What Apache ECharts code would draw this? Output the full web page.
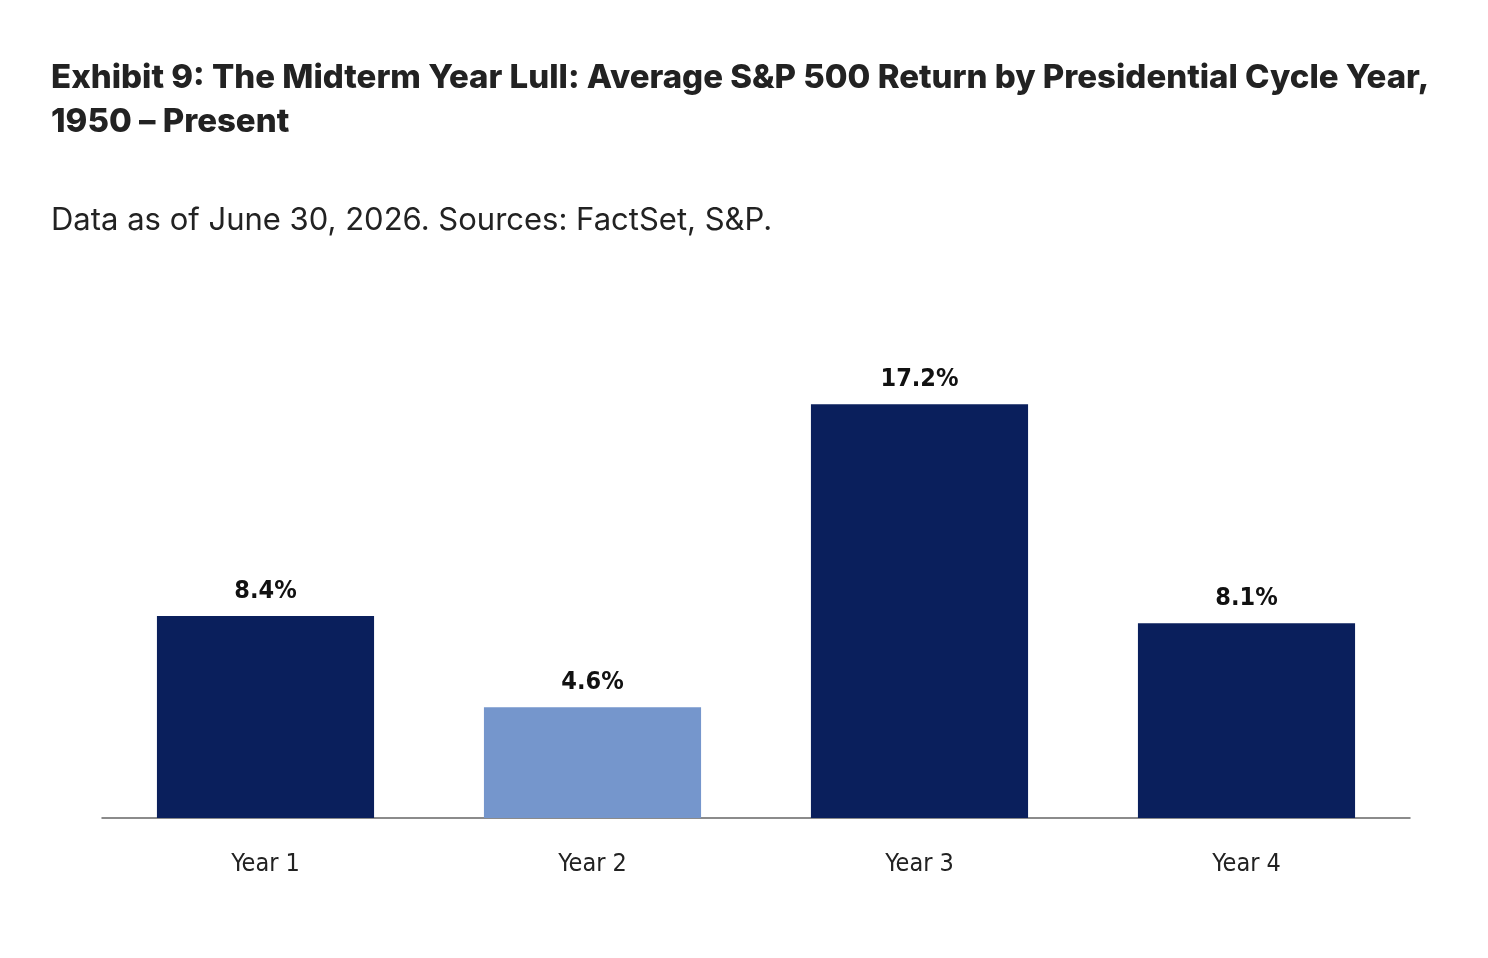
<!DOCTYPE html>
<html>
<head>
<meta charset="utf-8">
<script src="https://cdn.jsdelivr.net/npm/echarts@6/dist/echarts.min.js"></script>
<style>
html,body{margin:0;padding:0;background:#fff;}
#chart{width:1488px;height:958px;}
</style>
</head>
<body>
<div id="chart"></div>
<script>
const categories = ["Year 1", "Year 2", "Year 3", "Year 4"];
const values = [8.4, 4.6, 17.2, 8.1];
const barColors = ["#0a1f5c", "#7596cc", "#0a1f5c", "#0a1f5c"];
const titleText = "Exhibit 9: The Midterm Year Lull: Average S&P 500 Return by Presidential Cycle Year,\n1950 \u2013 Present";
const subtitleText = "Data as of June 30, 2026. Sources: FactSet, S&P.";

const narrow = '"Liberation Sans Narrow","DejaVu Sans Condensed","Roboto",sans-serif';
const chart = echarts.init(document.getElementById('chart'), null, {renderer: 'canvas'});
chart.setOption({
  backgroundColor: '#ffffff',
  animation: false,
  title: [
    {
      text: titleText,
      left: 51, top: 56, padding: 0,
      textStyle: {fontFamily: 'Inter', fontWeight: 800, fontSize: 33, color: '#222222', lineHeight: 44}
    },
    {
      text: subtitleText,
      left: 51, top: 203, padding: 0,
      textStyle: {fontFamily: 'Inter', fontWeight: 'normal', fontSize: 31, color: '#222222', lineHeight: 36}
    }
  ],
  grid: {left: 102, right: 78, top: 337, bottom: 140, containLabel: false},
  xAxis: {
    type: 'category',
    data: categories,
    axisLine: {show: true, lineStyle: {color: '#666666', width: 1.5}},
    axisTick: {show: false},
    axisLabel: {margin: 34, fontFamily: narrow, fontSize: 25, color: '#222222'}
  },
  yAxis: {
    type: 'value', min: 0, max: 20, show: false,
    splitLine: {show: false}
  },
  series: [{
    type: 'bar',
    barWidth: '66.4%',
    data: values.map((v, i) => ({value: v, itemStyle: {color: barColors[i]}})),
    label: {
      show: true, position: 'top', distance: 12,
      formatter: p => p.value.toFixed(1) + '%',
      fontFamily: narrow,
      fontWeight: 'bold', fontSize: 25, color: '#111111'
    }
  }]
});
</script>
</body>
</html>
